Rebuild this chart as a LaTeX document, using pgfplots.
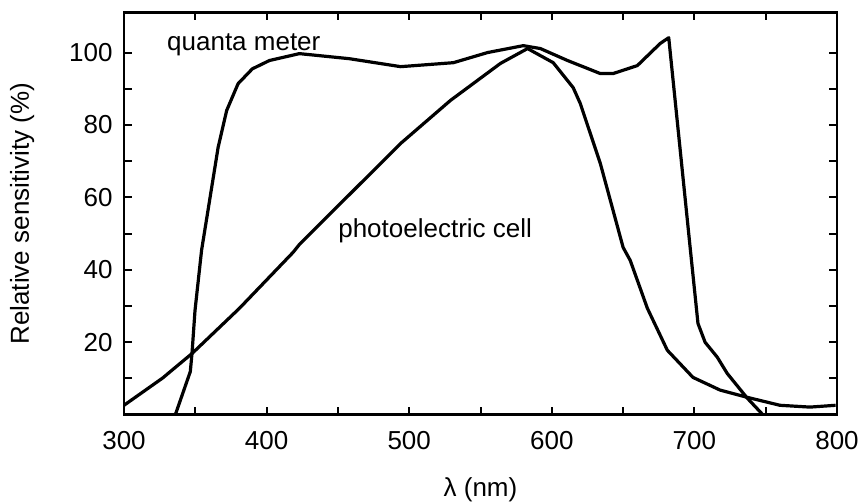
\documentclass[border=0pt]{standalone}
\usepackage{fontspec}
\setmainfont{Liberation Sans}
\usepackage{pgfplots}
\pgfplotsset{compat=1.18}
\begin{document}
\fontsize{13}{15}\selectfont
\begin{tikzpicture}
\begin{axis}[
  scale only axis, width=356.5pt, height=201pt,
  xmin=300, xmax=800, ymin=0, ymax=111,
  xtick={300,400,...,800}, minor xtick={350,450,...,750},
  ytick={20,40,...,100}, minor ytick={10,30,...,90},
  tick align=inside, major tick length=3.8pt, minor tick length=3.8pt,
  every tick/.style={line width=1pt, black},
  axis line style={line width=1.4pt},
  /pgf/number format/assume math mode=true,
  xticklabel style={yshift=-4pt},
  yticklabel style={xshift=-1.2pt},
  xlabel={λ (nm)},
  ylabel={Relative sensitivity (\%)},
  xlabel style={at={(axis description cs:0.5,-0.1866)}, anchor=center},
  ylabel style={at={(axis description cs:-0.143,0.5)}, anchor=center},
  clip=false,
]
\addplot[black, line width=1.6pt, line join=round] coordinates {
(336,0) (346.5,11.9) (347.7,17) (349.8,28.8) (354.4,45.4) (366,73.8) (372,84)
(380,91.4) (390,95.5) (402,97.8) (423,99.7) (458,98.3) (494,96.1) (531,97.2) (555,100)
(580,101.9) (592,101.1) (611,97.8) (634,94.2) (643,94.2) (660,96.4) (676,102.5) (682,104.1)
(697,46.2) (702.5,25.2) (707.5,20) (716,15.9) (723,11.4) (737,4.6) (748,0)
};
\addplot[black, line width=1.6pt, line join=round] coordinates {
(300,2.6) (327,10.1) (348,17) (381,29.4) (418.5,44.8) (423,47) (494,74.9) (529,86.8)
(564,97) (583,101.1) (601,97.2) (615,90.3) (620,85.9) (634,69.4) (650,46.2) (655,42.6)
(667,29.4) (681,17.8) (699,10.3) (718,6.8) (737,4.8) (760,2.6) (781,2.1) (799,2.6)
};
\node[anchor=base west, inner sep=0pt] at (axis cs:330,100.5) {quanta meter};
\node[anchor=base west, inner sep=0pt] at (axis cs:450,49) {photoelectric cell};
\coordinate (SW) at (rel axis cs:0,0);
\coordinate (NE) at (rel axis cs:1,1);
\end{axis}
\pgfresetboundingbox
\path ([xshift=-62pt, yshift=-44.5pt]SW) rectangle ([xshift=11.5pt, yshift=6.35pt]NE);
\end{tikzpicture}
\end{document}
